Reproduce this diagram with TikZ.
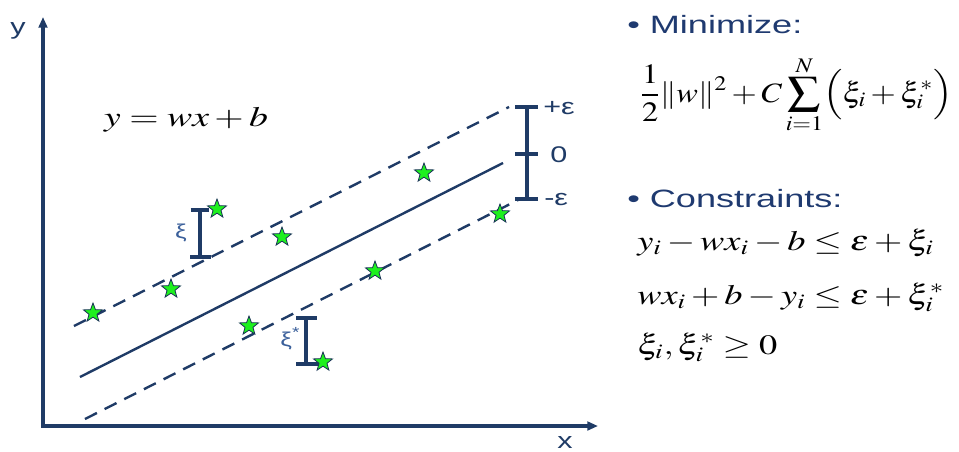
\documentclass[tikz,border=0pt]{standalone}
\usepackage{mathptmx}
\usepackage{fontspec}
\newfontfamily\arial{Liberation Sans}
\usetikzlibrary{shapes.geometric,arrows.meta}
\definecolor{navy}{HTML}{1F3B66}
\definecolor{txtblue}{HTML}{1F3A70}
\definecolor{xiblue}{HTML}{3A5F9A}
\definecolor{stargreen}{HTML}{1EF01E}
\begin{document}
\begin{tikzpicture}[x=0.75pt,y=-0.75pt,
  axisline/.style={draw=navy, line width=3pt, line join=miter},
  fitline/.style={draw=navy, line width=1.8pt},
  marginline/.style={draw=navy, line width=1.8pt, dash pattern=on 10pt off 6.5pt},
  barline/.style={draw=navy, line width=3pt},
  datapt/.style={star, star points=5, star point ratio=2.4, minimum size=15pt, inner sep=0pt, fill=stargreen, draw=navy!85!black, line width=0.6pt},
  lab/.style={text=navy, font=\arial\fontsize{17}{20}\selectfont, inner sep=0pt},
  xilab/.style={text=xiblue, font=\arial\fontsize{15}{18}\selectfont, inner sep=0pt},
  head/.style={text=txtblue, font=\arial\fontsize{18.8}{22}\selectfont, inner sep=0pt, anchor=base west},
  eq/.style={inner sep=0pt, anchor=base west, font=\fontsize{21}{25}\selectfont}]
\useasboundingbox (0,0) rectangle (959,451);
% axes
\coordinate (ytip) at (43,17);
\coordinate (origin) at (43,426);
\coordinate (xtip) at (598,426);
\draw[axisline, {Triangle[length=8pt,width=6.5pt]}-{Triangle[length=8pt,width=6.5pt]}] (ytip) -- (origin) -- (xtip);
\node[lab] (ylab) at (18,31) {\scalebox{1.35}[1]{y}};
\node[lab] (xlab) at (565,442) {\scalebox{1.35}[1]{x}};
% regression line and margins
\coordinate (f1) at (80,377);
\coordinate (f2) at (503,163);
\coordinate (u1) at (74,326);
\coordinate (u2) at (509,107);
\coordinate (l1) at (85,419);
\coordinate (l2) at (520,199);
\draw[fitline] (f1) -- (f2);
\draw[marginline] (u1) -- (u2);
\draw[marginline] (l1) -- (l2);
% epsilon bracket
\coordinate (bt) at (527,107);
\coordinate (bm) at (527,154);
\coordinate (bb) at (527,199);
\draw[barline] (bt) -- (bb);
\draw[barline] ([xshift=-9pt]bt) -- ([xshift=8pt]bt);
\draw[barline] ([xshift=-9pt]bm) -- ([xshift=8pt]bm);
\draw[barline] ([xshift=-9pt]bb) -- ([xshift=8pt]bb);
\node[lab, anchor=west] (peps) at (543,108) {\scalebox{1.35}[1]{+ε}};
\node[lab, anchor=west] (zero) at (550,155) {\scalebox{1.35}[1]{0}};
\node[lab, anchor=west] (meps) at (544,200) {\scalebox{1.35}[1]{-ε}};
% xi bracket
\coordinate (xt) at (200,210);
\coordinate (xb) at (200,257);
\draw[barline] (xt) -- (xb);
\draw[barline] ([xshift=-7pt]xt) -- ([xshift=7pt]xt);
\draw[barline] ([xshift=-7.5pt]xb) -- ([xshift=8pt]xb);
\node[xilab] (xi) at (181,233) {\scalebox{1.3}[1]{ξ}};
% xi* bracket
\coordinate (st) at (306,318);
\coordinate (sb) at (306,364);
\draw[barline] (st) -- (sb);
\draw[barline] ([xshift=-7.5pt]st) -- ([xshift=8pt]st);
\draw[barline] ([xshift=-7.5pt]sb) -- ([xshift=10pt]sb);
\node[xilab] (xis) at (290,339) {\scalebox{1.3}[1]{ξ\raisebox{0.45em}{\fontsize{11}{12}\selectfont *}}};
% data points
\node[datapt] (p1) at (93,313) {};
\node[datapt] (p2) at (171,289) {};
\node[datapt] (p3) at (217,209) {};
\node[datapt] (p4) at (282,237) {};
\node[datapt] (p5) at (249,326) {};
\node[datapt] (p6) at (375,271) {};
\node[datapt] (p7) at (424,173) {};
\node[datapt] (p8) at (500,214) {};
\node[datapt] (p9) at (323,362) {};
% regression equation
\node[inner sep=0pt, font=\fontsize{21}{25}\selectfont] (model) at (186,120) {\scalebox{1.35}[1]{$y=wx+b$}};
% right-hand text
\node[head] (minh) at (627,33) {\scalebox{1.44}[1]{• Minimize:}};
\node[eq] (obj) at (640,102) {\scalebox{1.16}[1]{$\displaystyle \frac{1}{2}\|w\|^2+C\sum_{i=1}^{N}\Bigl(\xi_i+\xi_i^*\Bigr)$}};
\node[head] (conh) at (627,207) {\scalebox{1.44}[1]{• Constraints:}};
\node[eq] (c1) at (637,250) {\scalebox{1.3}[1]{$y_i-wx_i-b\le\varepsilon+\xi_i$}};
\node[eq] (c2) at (637,304) {\scalebox{1.3}[1]{$wx_i+b-y_i\le\varepsilon+\xi_i^*$}};
\node[eq] (c3) at (637,354) {\scalebox{1.3}[1]{$\xi_i,\xi_i^*\ge 0$}};
\end{tikzpicture}
\end{document}
